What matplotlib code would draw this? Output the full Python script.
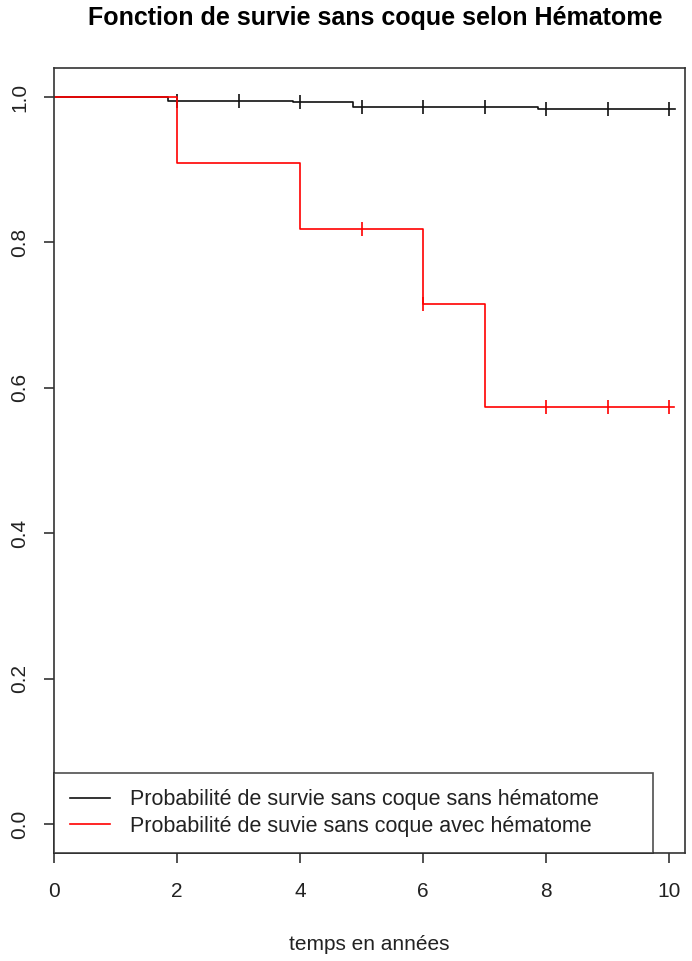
import numpy as np
import matplotlib
matplotlib.use("Agg")
import matplotlib.pyplot as plt

plt.rcParams['font.family'] = ['Liberation Sans', 'DejaVu Sans']

# Kaplan-Meier curves (time in years, survival probability)
sans_times = [0, 1.86, 2.88, 3.88, 4.86, 7.87, 10.1]
sans_surv = [1.0, 0.995, 0.994, 0.993, 0.986, 0.983, 0.983]
sans_censor = [2, 3, 4, 5, 6, 7, 8, 9, 10.0]

avec_times = [0, 2, 4, 6, 7, 10.08]
avec_surv = [1.0, 0.909, 0.818, 0.716, 0.573, 0.573]
avec_censor = [5, 6, 8, 9, 10.0]

labels = ["Probabilité de survie sans coque sans hématome",
          "Probabilité de suvie sans coque avec hématome"]
title = "Fonction de survie sans coque selon Hématome"
xlabel = "temps en années"


def surv_at(times, surv, t):
    idx = np.searchsorted(times, t, side='right') - 1
    return np.asarray(surv)[idx]


fig = plt.figure(figsize=(6.92, 9.61), dpi=100)
ax = fig.add_axes([54 / 692, 1 - 853 / 961, 631 / 692, 785 / 961])

ax.step(sans_times, sans_surv, where='post', color='#111111', lw=1.2, label=labels[0])
ax.plot(sans_censor, surv_at(sans_times, sans_surv, sans_censor), ls='None',
        marker='|', ms=10, mew=1.2, color='#111111')
ax.step(avec_times, avec_surv, where='post', color='red', lw=1.2, label=labels[1])
ax.plot(avec_censor, surv_at(avec_times, avec_surv, avec_censor), ls='None',
        marker='|', ms=10, mew=1.2, color='red')

ax.set_xlim(0, 10.26)
ax.set_ylim(-0.04, 1.04)
ax.set_xticks([0, 2, 4, 6, 8, 10])
ax.set_yticks([0.0, 0.2, 0.4, 0.6, 0.8, 1.0])
ax.set_yticklabels(["0.0", "0.2", "0.4", "0.6", "0.8", "1.0"])
ax.tick_params(axis='both', length=7, width=1.2, labelsize=15, color='#333333',
               labelcolor='#222222')
ax.tick_params(axis='x', pad=14)
ax.tick_params(axis='y', pad=11, labelrotation=90)
for lab in ax.get_yticklabels():
    lab.set_va('center')
for sp in ax.spines.values():
    sp.set_linewidth(1.2)
    sp.set_color('#333333')

ax.set_xlabel(xlabel, fontsize=15, labelpad=24, color='#222222')
fig.text(375 / 692, 1 - 18 / 961, title, fontsize=18, fontweight='bold',
         ha='center', va='center')

leg = ax.legend(loc='lower left', bbox_to_anchor=(0, 0, 0.949, 0.1), mode='expand',
                borderaxespad=0, fontsize=15.5, frameon=True, fancybox=False,
                borderpad=0.75, labelspacing=0.25, handlelength=1.85,
                handletextpad=0.95)
leg.get_frame().set_edgecolor('#222222')
leg.get_frame().set_linewidth(1.2)
for t in leg.get_texts():
    t.set_color('#222222')

fig.savefig("out.png", dpi=100)
